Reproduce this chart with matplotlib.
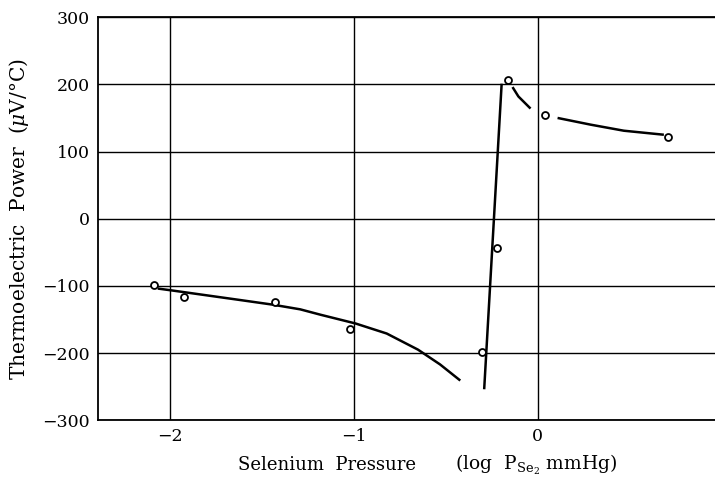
import numpy as np
import matplotlib
matplotlib.use("Agg")
import matplotlib.pyplot as plt

plt.rcParams['font.family'] = 'DejaVu Serif'
plt.rcParams['mathtext.fontset'] = 'dejavuserif'

# measured points (log P_Se2, thermoelectric power)
pts_x = [-2.086, -1.92, -1.43, -1.02, -0.30, -0.22, -0.16, 0.04, 0.71]
pts_y = [-98, -116, -124, -165, -198, -43, 207, 154, 122]

# hand-drawn curves
c1_x = [-2.065, -1.984, -1.62, -1.44, -1.29, -1.18, -0.99, -0.82, -0.65, -0.53, -0.42]
c1_y = [-104, -107, -121, -128, -135, -143, -156, -171, -195, -217, -241]
c2_x = [-0.29, -0.195]
c2_y = [-254, 201]
c3_x = [-0.136, -0.104, -0.038]
c3_y = [196, 182, 164]
c4_x = [0.109, 0.289, 0.469, 0.687]
c4_y = [150, 140, 131, 125]

fig = plt.figure(figsize=(7.15, 4.78), dpi=100)
ax = fig.add_axes([0.137, 0.121, 0.863, 0.843])

for cx, cy in [(c1_x, c1_y), (c2_x, c2_y), (c3_x, c3_y), (c4_x, c4_y)]:
    ax.plot(cx, cy, color='black', lw=1.8, solid_capstyle='butt',
            solid_joinstyle='round', zorder=3)
ax.plot(pts_x, pts_y, 'o', ms=5, mfc='white', mec='black', mew=1.3, zorder=4)

ax.set_xlim(-2.39, 0.965)
ax.set_ylim(-300, 300)
ax.set_xticks([-2, -1, 0])
ax.set_xticklabels(['\u22122', '\u22121', '0'])
ax.set_yticks([-300, -200, -100, 0, 100, 200, 300])
ax.set_yticklabels(['\u2212300', '\u2212200', '\u2212100', '0', '100', '200', '300'])
ax.tick_params(length=0, labelsize=12.5, pad=6)
ax.grid(True, color='black', lw=1.0)
ax.set_axisbelow(True)
ax.spines['right'].set_visible(False)
for s in ['left', 'top', 'bottom']:
    ax.spines[s].set_linewidth(1.3)

ax.set_ylabel(r'Thermoelectric  Power  ($\mu$V/$\degree$C)', fontsize=14.5, labelpad=8)
fig.text(0.333, 0.0167, 'Selenium  Pressure', ha='left', va='baseline', fontsize=13)
fig.text(0.636, 0.0167, r'(log  P$_{\mathrm{Se_2}}$ mmHg)', ha='left', va='baseline',
         fontsize=13.5)

fig.savefig('out.png', dpi=100)
